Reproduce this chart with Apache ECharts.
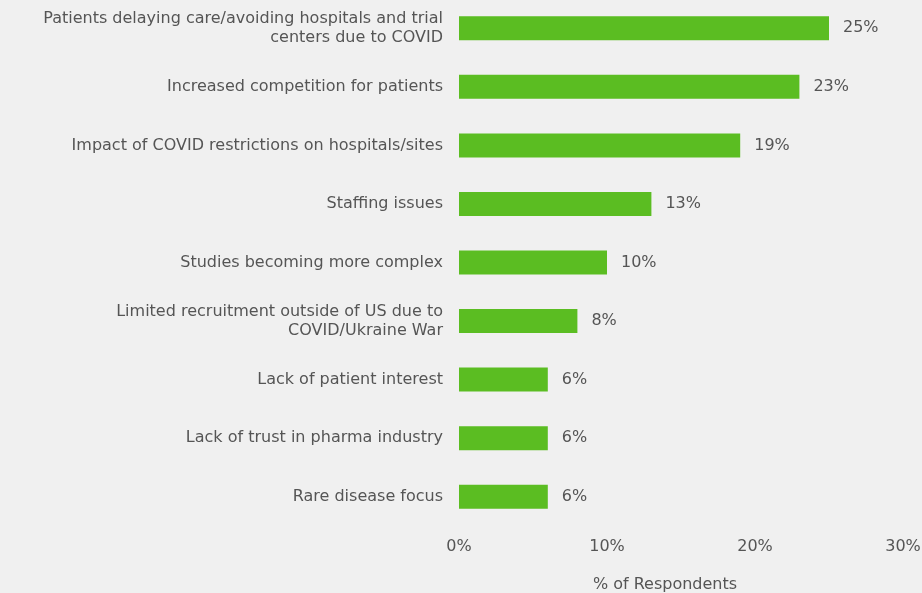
<!DOCTYPE html>
<html>
<head>
<meta charset="utf-8">
<script src="https://cdn.jsdelivr.net/npm/echarts@6/dist/echarts.min.js"></script>
<style>
  html, body { margin: 0; padding: 0; background: #f0f0f0; }
  #chart { width: 922px; height: 593px; }
</style>
</head>
<body>
<div id="chart"></div>
<script>
// Reasons cited for enrollment challenges, top to bottom
const categories = [
  'Patients delaying care/avoiding hospitals and trial\ncenters due to COVID',
  'Increased competition for patients',
  'Impact of COVID restrictions on hospitals/sites',
  'Staffing issues',
  'Studies becoming more complex',
  'Limited recruitment outside of US due to\nCOVID/Ukraine War',
  'Lack of patient interest',
  'Lack of trust in pharma industry',
  'Rare disease focus'
];
const shares = [25, 23, 19, 13, 10, 8, 6, 6, 6];
const axisTicks = [0, 10, 20, 30];

const textColor = '#555555';
const fontFamily = '"DejaVu Sans", "Noto Sans", sans-serif';

const chart = echarts.init(document.getElementById('chart'));
chart.setOption({
  backgroundColor: '#f0f0f0',
  grid: {
    left: 459, right: 19, top: -1, bottom: 67,
    containLabel: false, outerBoundsMode: 'none'
  },
  xAxis: {
    type: 'value',
    min: axisTicks[0],
    max: axisTicks[axisTicks.length - 1],
    interval: axisTicks[1] - axisTicks[0],
    axisLine: { show: false },
    axisTick: { show: false },
    splitLine: { show: false },
    axisLabel: {
      color: textColor, fontSize: 16, fontFamily: fontFamily, margin: 13,
      formatter: v => v + '%'
    },
    name: '% of Respondents',
    nameLocation: 'middle',
    nameGap: 51,
    nameTextStyle: {
      color: textColor, fontSize: 16, fontFamily: fontFamily,
      padding: [0, 32, 0, 0]
    }
  },
  yAxis: {
    type: 'category',
    data: categories,
    inverse: true,
    axisLine: { show: false },
    axisTick: { show: false },
    axisLabel: {
      color: textColor, fontSize: 16, fontFamily: fontFamily,
      margin: 16, align: 'right', lineHeight: 19
    }
  },
  series: [{
    type: 'bar',
    data: shares,
    barWidth: 24,
    itemStyle: { color: '#5bbd22' },
    label: {
      show: true, position: 'right', distance: 14,
      color: textColor, fontSize: 16, fontFamily: fontFamily,
      formatter: p => p.value + '%'
    },
    silent: true
  }],
  animation: false
});
</script>
</body>
</html>
